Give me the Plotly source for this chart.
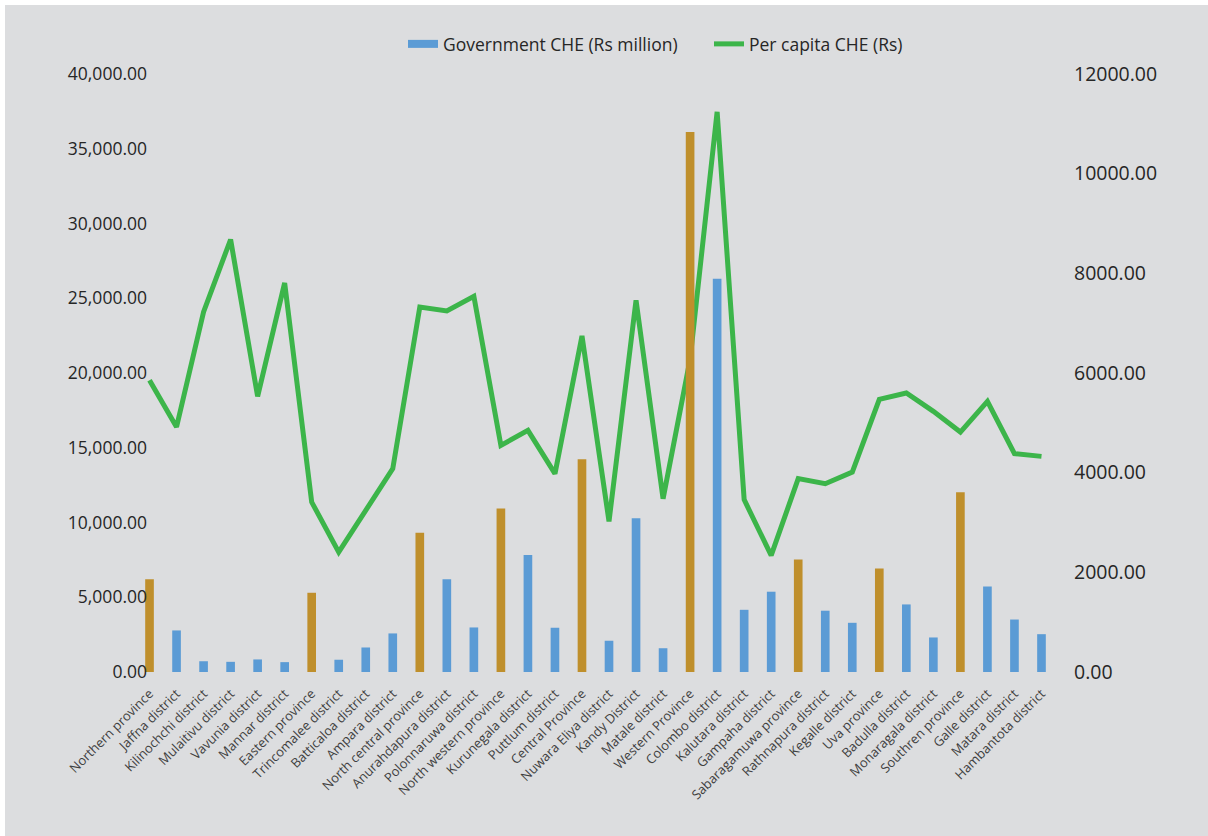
import plotly.graph_objects as go

categories = ["Northern province", "Jaffna district", "Kilinochchi district", "Mulaitivu district",
              "Vavunia district", "Mannar district", "Eastern province", "Trincomalee district",
              "Batticaloa district", "Ampara district", "North central province", "Anurahdapura district",
              "Polonnaruwa district", "North western province", "Kurunegala district", "Puttlum district",
              "Central Province", "Nuwara Eliya district", "Kandy District", "Matale district",
              "Western Province", "Colombo district", "Kalutara district", "Gampaha district",
              "Sabaragamuwa province", "Rathnapura district", "Kegalle district", "Uva province",
              "Badulla district", "Monaragala district", "Southren province", "Galle district",
              "Matara district", "Hambantota district"]

gov_che = [6200, 2780, 720, 680, 840, 660, 5300, 820, 1640, 2580, 9320, 6210, 2980, 10930,
           7820, 2960, 14230, 2090, 10280, 1590, 36120, 26300, 4160, 5370, 7530, 4100, 3290,
           6930, 4520, 2310, 12020, 5720, 3510, 2530]

per_capita = [5853, 4916, 7225, 8679, 5532, 7807, 3410, 2406, 3243, 4080, 7325, 7245, 7540, 4548,
              4849, 3980, 6743, 3022, 7460, 3478, 6275, 11241, 3458, 2339, 3880, 3779, 4012,
              5472, 5598, 5231, 4815, 5432, 4381, 4327]

is_province = [c.lower().endswith("province") for c in categories]

BLUE = "#5B9BD5"
GOLD = "#BF8F2C"
GREEN = "#3CB54A"
BG = "#DCDDDF"
TXT = "#262626"

district_vals = [None if p else v for v, p in zip(gov_che, is_province)]
province_vals = [v if p else None for v, p in zip(gov_che, is_province)]

ml, mr, mt, mb = 136, 153, 74, 164
W = 1208 - ml - mr
H = 836 - mt - mb

fig = go.Figure()

# line on base y axis (right side) so that bars (overlaying axis) draw above it
fig.add_trace(go.Scatter(x=categories, y=per_capita, name="Per capita CHE (Rs)", mode="lines",
                         line=dict(color=GREEN, width=5), yaxis="y", legend="legend2"))
fig.add_trace(go.Bar(x=categories, y=district_vals, name="Government CHE (Rs million)",
                     marker=dict(color=BLUE, line=dict(width=0)), yaxis="y2", showlegend=False))
fig.add_trace(go.Bar(x=categories, y=province_vals, name="Government CHE (Rs million)",
                     marker=dict(color=GOLD, line=dict(width=0)), yaxis="y2", showlegend=False))
# legend key for the bar series (wide flat swatch like the original)
fig.add_trace(go.Scatter(x=[None], y=[None], name="Government CHE (Rs million)", mode="lines",
                         line=dict(color=BLUE, width=8), yaxis="y2", legend="legend",
                         hoverinfo="skip"))

leg_y = 1 + (mt - 44) / H
fig.update_layout(
    width=1208, height=836,
    margin=dict(l=ml, r=mr, t=mt, b=mb, pad=0),
    paper_bgcolor=BG, plot_bgcolor=BG,
    barmode="overlay", bargap=0.68,
    font=dict(family="Open Sans", color=TXT),
    showlegend=True,
    legend=dict(orientation="h", x=(403 - ml) / W, xanchor="left", y=leg_y, yanchor="middle",
                font=dict(size=17.5, color=TXT), bgcolor="rgba(0,0,0,0)"),
    legend2=dict(orientation="h", x=(709 - ml) / W, xanchor="left", y=leg_y, yanchor="middle",
                 font=dict(size=17.5, color=TXT), bgcolor="rgba(0,0,0,0)"),
    xaxis=dict(type="category", range=[-0.5, len(categories) - 0.5], tickangle=-45,
               tickfont=dict(size=13, color="#404040"), showline=False, showgrid=False,
               zeroline=False, ticks="outside", ticklen=8, tickcolor=BG),
    yaxis=dict(side="right", range=[0, 12000], dtick=2000, tickformat=".2f",
               showgrid=False, zeroline=False, showline=False, ticks="",
               tickfont=dict(size=19.5, color=TXT), ticklabelstandoff=18),
    yaxis2=dict(side="left", overlaying="y", range=[0, 40000], dtick=5000, tickformat=",.2f",
                showgrid=False, zeroline=False, showline=False, ticks="",
                tickfont=dict(size=17.5, color=TXT), ticklabelstandoff=-12),
    shapes=[
        dict(type="rect", xref="paper", yref="paper", x0=(0 - ml) / W, x1=(5 - ml) / W,
             y0=-(mb + 5) / H, y1=1 + (mt + 5) / H, fillcolor="white", line=dict(width=0), layer="above"),
        dict(type="rect", xref="paper", yref="paper", x0=(0 - ml) / W, x1=(1213 - ml) / W,
             y0=1 + (mt - 5) / H, y1=1 + (mt + 5) / H, fillcolor="white", line=dict(width=0), layer="above"),
    ],
)

fig.write_html("out.html")
